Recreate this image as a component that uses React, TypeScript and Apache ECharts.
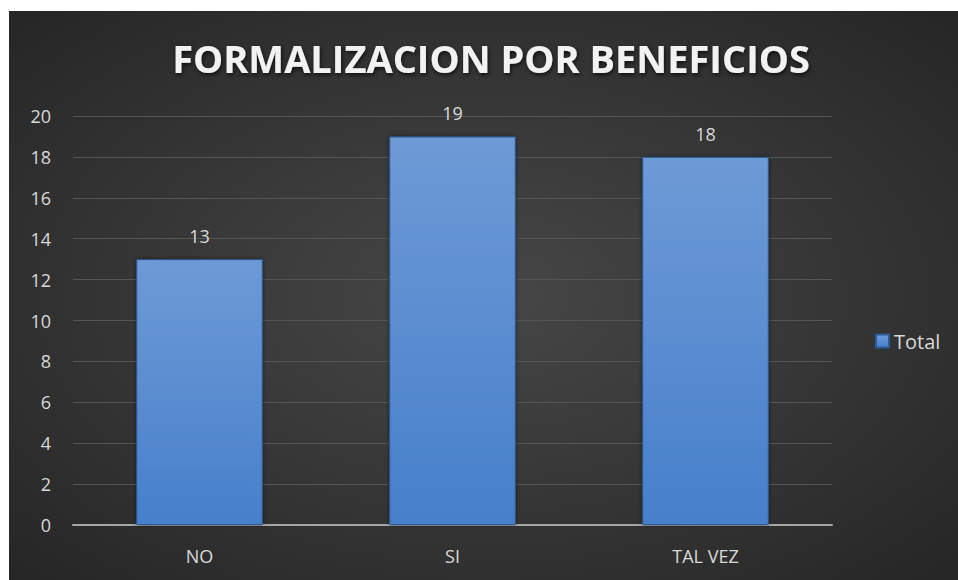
import React, { useEffect, useRef } from "react";
import * as echarts from "echarts";

const categories = ["NO", "SI", "TAL VEZ"];
const totals = [13, 19, 18];
const seriesName = "Total";
const chartTitle = "FORMALIZACION POR BENEFICIOS";

export default function App() {
  const ref = useRef<HTMLDivElement>(null);
  useEffect(() => {
    if (!ref.current) return;
    const chart = echarts.init(ref.current, null, { renderer: "svg" });
    const font = "'Open Sans', 'Noto Sans', sans-serif";
    chart.setOption({
      animation: false,
      backgroundColor: "#ffffff",
      graphic: [
        {
          type: "rect",
          z: -10,
          silent: true,
          shape: { x: 9, y: 11, width: 949, height: 569 },
          style: {
            fill: new echarts.graphic.RadialGradient(0.5, 0.5, 0.7, [
              { offset: 0, color: "#474747" },
              { offset: 1, color: "#262626" },
            ]),
          },
        },
      ],
      title: {
        text: chartTitle,
        left: 486,
        top: 34,
        textAlign: "center",
        textStyle: {
          color: "#f2f2f2",
          fontFamily: font,
          fontWeight: "bold",
          fontSize: 38,
          textShadowColor: "rgba(0,0,0,0.7)",
          textShadowBlur: 4,
          textShadowOffsetX: 1,
          textShadowOffsetY: 2,
        },
      },
      legend: {
        data: [seriesName],
        left: 870,
        top: 326,
        orient: "vertical",
        itemWidth: 13,
        itemHeight: 13,
        itemGap: 6,
        icon: "rect",
        textStyle: { color: "#d9d9d9", fontSize: 20, fontFamily: font, padding: [0, 0, 0, 0] },
      },
      grid: { left: 73, right: 126, top: 116, bottom: 55, containLabel: false },
      xAxis: {
        type: "category",
        data: categories,
        axisLine: { lineStyle: { color: "#a6a6a6", width: 2 } },
        axisTick: { show: false },
        axisLabel: { color: "#d9d9d9", fontSize: 18, fontFamily: font, margin: 22 },
      },
      yAxis: {
        type: "value",
        min: 0,
        max: 20,
        interval: 2,
        axisLine: { show: false },
        axisTick: { show: false },
        splitLine: { lineStyle: { color: "#555555", width: 1 } },
        axisLabel: { color: "#d9d9d9", fontSize: 18, fontFamily: font, margin: 22 },
      },
      series: [
        {
          name: seriesName,
          type: "bar",
          data: totals,
          barWidth: "50%",
          itemStyle: {
            color: new echarts.graphic.LinearGradient(0, 0, 0, 1, [
              { offset: 0, color: "#6e9ad6" },
              { offset: 1, color: "#4680cb" },
            ]),
            borderColor: "#2d5a94",
            borderWidth: 1,
            shadowColor: "rgba(0,0,0,0.5)",
            shadowBlur: 4,
          },
          label: {
            show: true,
            position: "top",
            distance: 14,
            color: "#d9d9d9",
            fontSize: 18,
            fontFamily: font,
          },
        },
      ],
    });
    return () => chart.dispose();
  }, []);
  return (
    <div
      ref={ref}
      style={{ position: "absolute", left: 0, top: 0, width: 958, height: 580 }}
    />
  );
}
